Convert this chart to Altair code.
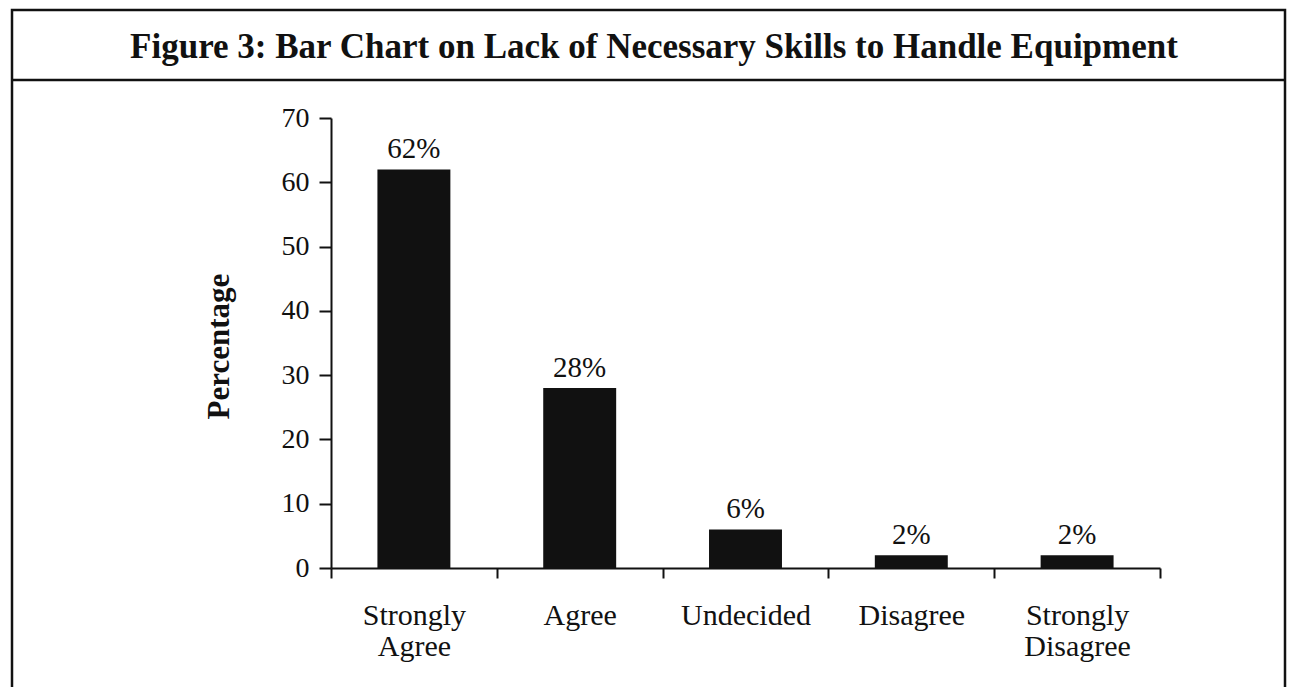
import altair as alt
import pandas as pd

categories = ["Strongly Agree", "Agree", "Undecided", "Disagree", "Strongly Disagree"]
percentages = [62, 28, 6, 2, 2]
value_labels = ["62%", "28%", "6%", "2%", "2%"]
y_ticks = [0, 10, 20, 30, 40, 50, 60, 70]
title_text = "Figure 3: Bar Chart on Lack of Necessary Skills to Handle Equipment"

df = pd.DataFrame({"Response": categories, "Percentage": percentages, "Label": value_labels})
one = pd.DataFrame({"a": [0]})

FONT = "Liberation Serif"
INK = "#111111"
W, H = 829, 450

x_enc = alt.X(
    "Response:N", sort=categories, title=None,
    scale=alt.Scale(paddingInner=0, paddingOuter=0),
    axis=alt.Axis(
        labelAngle=0, labelExpr="split(datum.label, ' ')",
        labelFont=FONT, labelFontSize=30, labelLineHeight=31, labelColor=INK,
        labelPadding=22, tickBand="extent", tickSize=10, tickWidth=2,
        tickColor=INK, domainColor=INK, domainWidth=2, grid=False,
    ),
)
y_enc = alt.Y(
    "Percentage:Q",
    scale=alt.Scale(domain=[0, 70], nice=False),
    axis=alt.Axis(
        values=y_ticks, title="Percentage", grid=False,
        labelFont=FONT, labelFontSize=28, labelColor=INK, labelPadding=10,
        tickSize=12, tickWidth=2, tickColor=INK, domainColor=INK, domainWidth=2,
        titleFont=FONT, titleFontSize=31, titleFontWeight="bold", titleColor=INK,
        titleX=-112, titleY=228, titleAngle=-90, titleAlign="center", titleBaseline="middle",
    ),
)

bars = alt.Chart(df).mark_bar(color=INK, width=alt.RelativeBandSize(0.44)).encode(x=x_enc, y=y_enc)
labels = alt.Chart(df).mark_text(
    baseline="bottom", dy=-5, fontSize=29, font=FONT, color=INK
).encode(x=alt.X("Response:N", sort=categories), y="Percentage:Q", text="Label:N")

box = alt.Chart(one).mark_rect(filled=False, stroke=INK, strokeWidth=2.5).encode(
    x=alt.value(-319), x2=alt.value(954), y=alt.value(-108), y2=alt.value(660)
)
sep = alt.Chart(one).mark_rule(color=INK, strokeWidth=2.5).encode(
    x=alt.value(-319), x2=alt.value(954), y=alt.value(-38)
)
title = alt.Chart(one).mark_text(
    text=title_text, font=FONT, fontSize=35, fontWeight="bold", color=INK,
    align="center", baseline="middle",
).encode(x=alt.value(323), y=alt.value(-71))

chart = alt.layer(box, sep, title, bars, labels).properties(
    width=W, height=H,
    autosize="none",
    padding={"left": 331, "top": 118, "right": 136, "bottom": 119},
    background="white",
).configure_view(strokeWidth=0)

chart.save("out.html", embed_options={"renderer": "svg", "actions": False})
